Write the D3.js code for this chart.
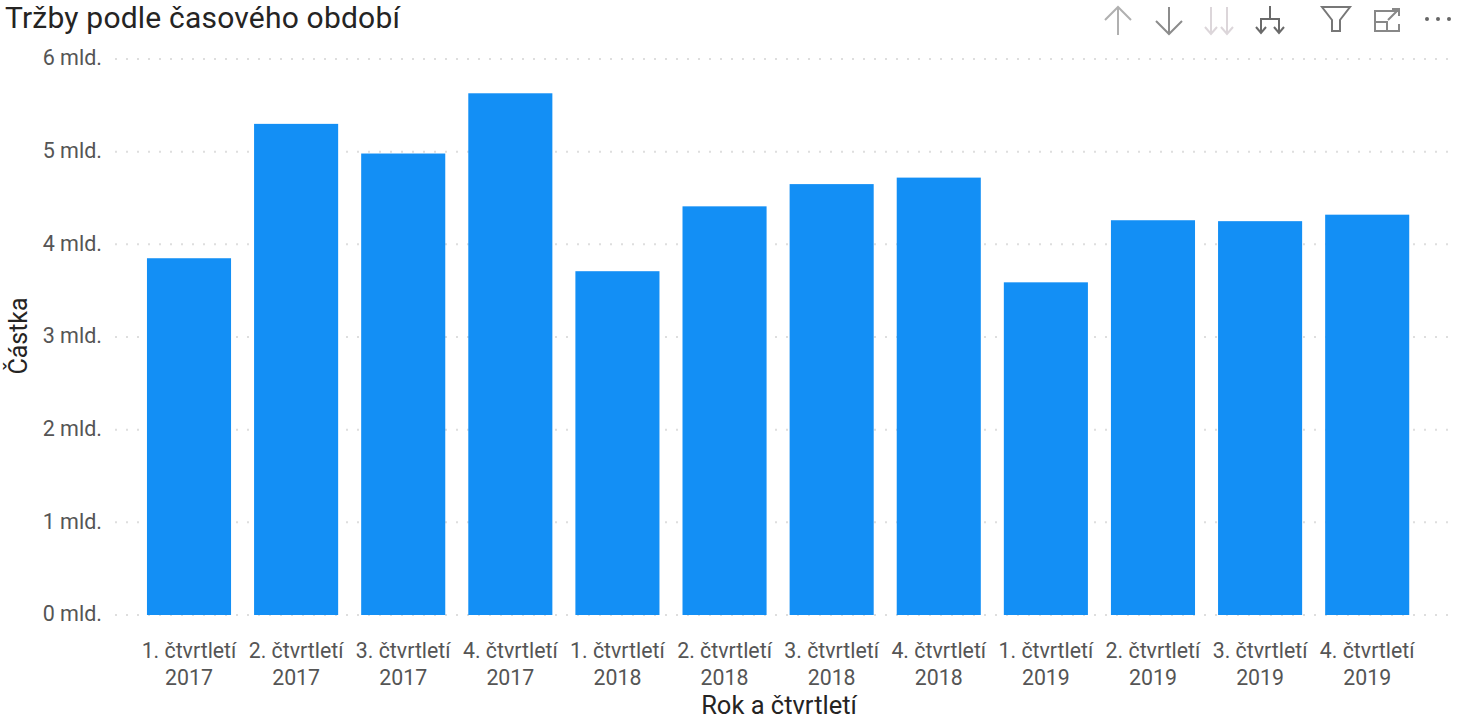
<!DOCTYPE html>
<html><head><meta charset="utf-8">
<script src="https://cdnjs.cloudflare.com/ajax/libs/d3/7.8.5/d3.min.js"></script>
<style>
html,body{margin:0;padding:0;background:#fff;overflow:hidden}
svg{display:block}
text{font-family:Roboto,"Noto Sans",sans-serif}
</style></head><body>
<svg id="c" width="1458" height="720"></svg>
<script>
const quarters=["1. čtvrtletí","2. čtvrtletí","3. čtvrtletí","4. čtvrtletí","1. čtvrtletí","2. čtvrtletí","3. čtvrtletí","4. čtvrtletí","1. čtvrtletí","2. čtvrtletí","3. čtvrtletí","4. čtvrtletí"];
const years=["2017","2017","2017","2017","2018","2018","2018","2018","2019","2019","2019","2019"];
const values=[3.85,5.30,4.98,5.63,3.71,4.41,4.65,4.72,3.59,4.26,4.25,4.32];
const yTicks=[0,1,2,3,4,5,6];
const title="Tržby podle časového období";
const xTitle="Rok a čtvrtletí";
const yTitle="Částka";

const svg=d3.select("#c");
const ids=values.map((_,i)=>i);
const x=d3.scaleBand().domain(ids).range([135.5,1420.7]).paddingInner(0.215).paddingOuter(0.107);
const y=d3.scaleLinear().domain([0,6]).range([615,59]);

// gridlines
svg.append("g").selectAll("line").data(yTicks).join("line")
  .attr("x1",115).attr("x2",1450).attr("y1",d=>y(d)).attr("y2",d=>y(d))
  .attr("stroke","#dedede").attr("stroke-width",2).attr("stroke-dasharray","2 9");

// bars
svg.append("g").selectAll("rect").data(ids).join("rect")
  .attr("x",i=>x(i)).attr("width",x.bandwidth())
  .attr("y",i=>y(values[i])).attr("height",i=>y(0)-y(values[i]))
  .attr("fill","#138ff5");

// y axis labels
const yAxis=svg.append("g").attr("transform","translate(102,-1)")
  .call(d3.axisLeft(y).tickValues(yTicks).tickSize(0).tickPadding(0).tickFormat(d=>d+" mld."));
yAxis.select(".domain").remove();
yAxis.selectAll("text").attr("font-size",21.5).attr("fill","#555").style("font-family","Roboto,sans-serif");

// x axis labels
const xAxis=svg.append("g").attr("transform","translate(0,615)")
  .call(d3.axisBottom(x).tickSize(0).tickFormat(""));
xAxis.select(".domain").remove();
xAxis.selectAll(".tick text").each(function(i){
  const t=d3.select(this).attr("y",0).attr("dy",null).attr("font-size",21.3).attr("fill","#555").style("font-family","Roboto,sans-serif");
  t.append("tspan").attr("x",0).attr("y",43).text(quarters[i]);
  t.append("tspan").attr("x",0).attr("y",70).text(years[i]);
});

// titles
svg.append("text").attr("x",5).attr("y",28).attr("font-size",30).attr("letter-spacing",0.2).attr("fill","#252423").text(title);
svg.append("text").attr("x",779).attr("y",714).attr("text-anchor","middle").attr("font-size",25.5).attr("fill","#252423").text(xTitle);
svg.append("text").attr("transform","translate(27,336) rotate(-90)").attr("text-anchor","middle").attr("font-size",25).attr("fill","#252423").text(yTitle);

// header icons
const icons=svg.append("g").attr("fill","none").attr("stroke-width",2);
const iconData=[
 {c:"#b0b0b0",d:"M1118 35V8M1105 20L1118 7L1131 20"},
 {c:"#8c8c8c",d:"M1169 7V34M1156 21L1169 34L1182 21"},
 {c:"#dcd6da",d:"M1211 7V34M1205 27L1211 34L1217 27M1227 7V34M1221 27L1227 34L1233 27"},
 {c:"#6a6a6a",d:"M1270 6V19M1261 33V19H1279V33M1256 27L1261 33L1266 27M1274 27L1279 33L1284 27"},
 {c:"#777",d:"M1322 7H1350L1340 20V31H1332V20Z"},
 {c:"#888",d:"M1399 11H1375V31H1399V24M1375 22H1387V31M1388 20L1399 9M1392 9H1399V16"}
];
icons.selectAll("path").data(iconData).join("path").attr("d",d=>d.d).attr("stroke",d=>d.c);
svg.append("g").selectAll("circle").data([1427,1438,1449]).join("circle")
  .attr("cx",d=>d).attr("cy",19).attr("r",2).attr("fill","#666");
</script>
</body></html>
